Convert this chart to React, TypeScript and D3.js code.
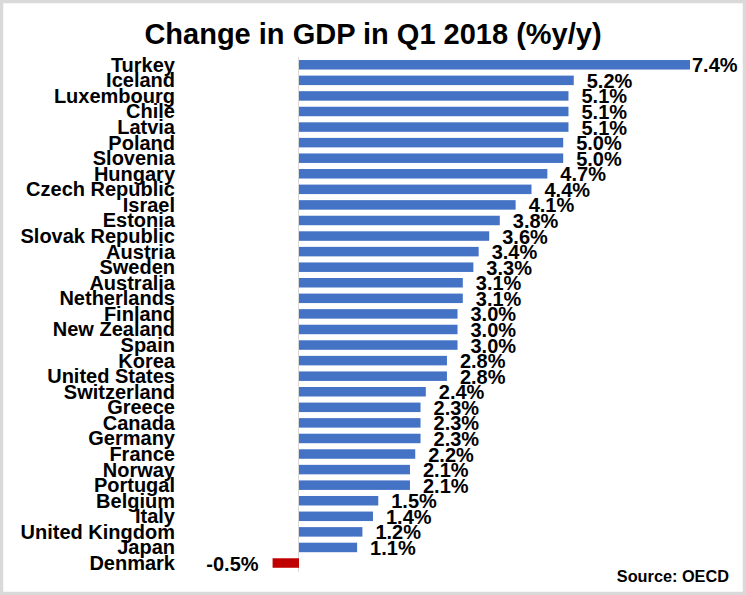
import React from "react";
import * as d3 from "d3";

const countries = [
  "Turkey", "Iceland", "Luxembourg", "Chile", "Latvia", "Poland", "Slovenia",
  "Hungary", "Czech Republic", "Israel", "Estonia", "Slovak Republic", "Austria",
  "Sweden", "Australia", "Netherlands", "Finland", "New Zealand", "Spain", "Korea",
  "United States", "Switzerland", "Greece", "Canada", "Germany", "France", "Norway",
  "Portugal", "Belgium", "Italy", "United Kingdom", "Japan", "Denmark",
];
const values = [
  7.4, 5.2, 5.1, 5.1, 5.1, 5.0, 5.0, 4.7, 4.4, 4.1, 3.8, 3.6, 3.4, 3.3, 3.1, 3.1,
  3.0, 3.0, 3.0, 2.8, 2.8, 2.4, 2.3, 2.3, 2.3, 2.2, 2.1, 2.1, 1.5, 1.4, 1.2, 1.1, -0.5,
];
const title = "Change in GDP in Q1 2018 (%y/y)";
const source = "Source: OECD";

const W = 746;
const H = 595;
const FONT = "'Liberation Sans', Arial, sans-serif";

export default function App() {
  const x = d3.scaleLinear().domain([0, 7.4]).range([299, 690]);
  const y = d3
    .scaleBand<string>()
    .domain(countries)
    .range([57, 570.8])
    .paddingInner(0.39)
    .paddingOuter(0.195);
  const bw = y.bandwidth();
  const fmt = (v: number) => v.toFixed(1) + "%";

  return (
    <svg
      width={W}
      height={H}
      style={{ position: "absolute", left: 0, top: 0, background: "#fff" }}
    >
      <rect x={0} y={0} width={W} height={H} fill="#ffffff" />
      <rect
        x={1.5}
        y={1.5}
        width={W - 3}
        height={H - 3}
        fill="none"
        stroke="#d9d9d9"
        strokeWidth={3.5}
      />
      <text
        x={373}
        y={44}
        textAnchor="middle"
        fontFamily={FONT}
        fontWeight="bold"
        fontSize={29}
        fill="#000"
      >
        {title}
      </text>
      <line x1={298.5} x2={298.5} y1={57} y2={572} stroke="#d9d9d9" strokeWidth={1} />
      {countries.map((c, i) => {
        const v = values[i];
        const yc = (y(c) as number) + bw / 2;
        const x0 = x(Math.min(0, v));
        const x1 = x(Math.max(0, v));
        const neg = v < 0;
        const labelW = 46;
        let lx = neg ? x0 - 14 : x1 + 13;
        if (!neg && lx + labelW > 738) lx = 738 - labelW;
        return (
          <g key={c}>
            <rect
              x={x0}
              y={y(c)}
              width={x1 - x0}
              height={bw}
              fill={neg ? "#c00000" : "#4472c4"}
            />
            <text
              x={175}
              y={yc + 7}
              textAnchor="end"
              fontFamily={FONT}
              fontWeight="bold"
              fontSize={20}
              fill="#000"
            >
              {c}
            </text>
            <text
              x={lx}
              y={yc + 7.5}
              textAnchor={neg ? "end" : "start"}
              fontFamily={FONT}
              fontWeight="bold"
              fontSize={20}
              fill="#000"
            >
              {fmt(v)}
            </text>
          </g>
        );
      })}
      <text
        x={729}
        y={582}
        textAnchor="end"
        fontFamily={FONT}
        fontWeight="bold"
        fontSize={16.3}
        fill="#000"
      >
        {source}
      </text>
    </svg>
  );
}
